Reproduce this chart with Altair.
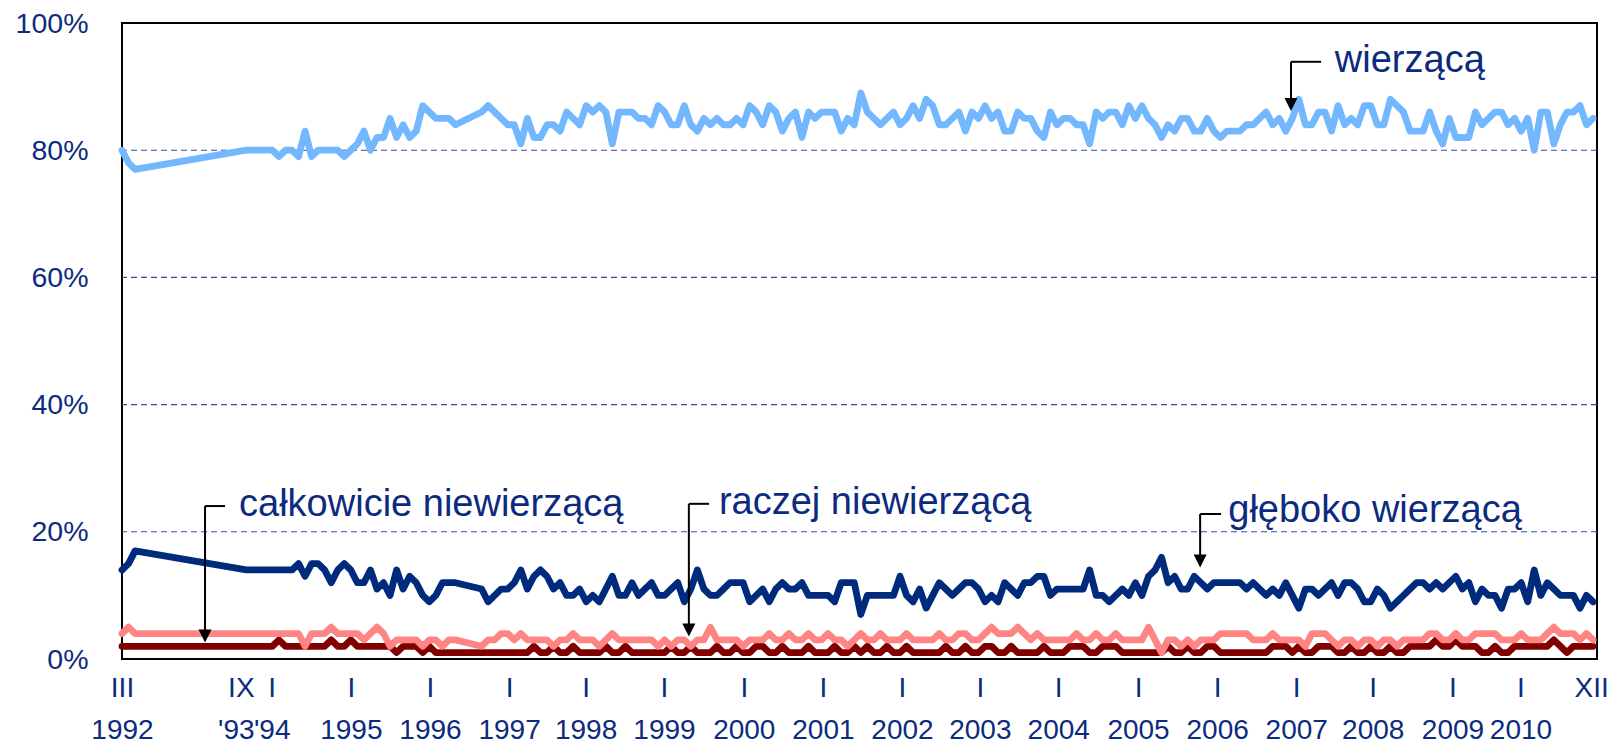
import json
import altair as alt
import pandas as pd

# ---- survey months (0 = III 1992) ----
MONTHS = [0, 1, 2] + list(range(19, 52)) + list(range(55, 226))

WIERZACA = [80, 78, 77,
    80, 80, 80, 80, 80, 79, 80, 80, 79, 83, 79, 80, 80, 80, 80, 79, 80, 81, 83, 80, 82, 82, 85, 82, 84, 82, 83, 87, 86, 85, 85, 85, 84,
    86, 87, 86, 85, 84, 84, 81, 85, 82, 82,
    84, 84, 83, 86, 85, 84, 87, 86, 87, 86,
    81, 86, 86, 86, 85, 85, 84, 87, 86, 84,
    84, 87, 84, 83, 85, 84, 85, 84, 84, 85,
    84, 87, 86, 84, 87, 86, 83, 85, 86, 82,
    86, 85, 86, 86, 86, 83, 85, 84, 89, 86,
    85, 84, 85, 86, 84, 85, 87, 85, 88, 87,
    84, 84, 85, 86, 83, 86, 85, 87, 85, 86,
    83, 83, 86, 85, 85, 83, 82, 86, 84, 85,
    85, 84, 84, 81, 86, 85, 86, 86, 84, 87,
    85, 87, 85, 84, 82, 84, 83, 85, 85, 83,
    83, 85, 83, 82, 83, 83, 83, 84, 84, 85,
    86, 84, 85, 83, 85, 88, 84, 84, 86, 86,
    83, 87, 84, 85, 84, 87, 87, 84, 84, 88,
    87, 86, 83, 83, 83, 86, 83, 81, 85, 82,
    82, 82, 86, 84, 85, 86, 86, 84, 85, 83,
    85, 80, 86, 86, 81, 84, 86, 86, 87, 84,
    85]

GLEBOKO = [14, 15, 17,
    14, 14, 14, 14, 14, 14, 14, 14, 15, 13, 15, 15, 14, 12, 14, 15, 14, 12, 12, 14, 11, 12, 10, 14, 11, 13, 12, 10, 9, 10, 12, 12, 12,
    11, 9, 10, 11, 11, 12, 14, 11, 13, 14,
    13, 11, 12, 10, 10, 11, 9, 10, 9, 11,
    13, 10, 10, 12, 10, 11, 12, 10, 10, 11,
    12, 9, 11, 14, 11, 10, 10, 11, 12, 12,
    12, 9, 10, 11, 9, 11, 12, 11, 11, 12,
    10, 10, 10, 10, 9, 12, 12, 12, 7, 10,
    10, 10, 10, 10, 13, 10, 9, 11, 8, 10,
    12, 11, 10, 11, 12, 12, 11, 9, 10, 9,
    12, 11, 10, 12, 12, 13, 13, 10, 11, 11,
    11, 11, 11, 14, 10, 10, 9, 10, 11, 10,
    12, 10, 13, 14, 16, 12, 13, 11, 11, 13,
    12, 11, 12, 12, 12, 12, 12, 11, 12, 11,
    10, 11, 10, 12, 10, 8, 11, 11, 10, 11,
    12, 10, 12, 12, 11, 9, 9, 11, 10, 8,
    9, 10, 11, 12, 12, 11, 12, 11, 12, 13,
    11, 12, 9, 11, 10, 10, 8, 11, 11, 12,
    9, 14, 10, 12, 11, 10, 10, 10, 8, 10,
    9]

RACZEJ = [4, 5, 4,
    4, 4, 4, 4, 4, 4, 4, 4, 4, 2, 4, 4, 4, 5, 4, 4, 4, 4, 3, 4, 5, 4, 2, 3, 3, 3, 3, 2, 3, 3, 2, 3, 3,
    2, 3, 3, 4, 4, 3, 4, 3, 3, 3,
    3, 2, 3, 3, 4, 3, 3, 3, 2, 3,
    4, 3, 3, 3, 3, 3, 3, 2, 3, 2,
    3, 3, 2, 3, 3, 5, 3, 3, 3, 3,
    2, 3, 3, 3, 4, 3, 3, 4, 3, 3,
    4, 3, 3, 4, 3, 3, 2, 3, 4, 3,
    3, 4, 3, 3, 3, 4, 3, 3, 3, 3,
    4, 3, 3, 4, 4, 3, 3, 4, 5, 4,
    4, 4, 5, 4, 3, 4, 3, 3, 3, 3,
    3, 4, 3, 3, 4, 3, 3, 4, 3, 3,
    3, 3, 5, 3, 1, 3, 3, 2, 3, 2,
    3, 3, 3, 4, 4, 4, 4, 4, 3, 3,
    3, 4, 3, 3, 3, 3, 2, 4, 4, 4,
    3, 2, 3, 3, 2, 3, 3, 2, 3, 3,
    2, 3, 3, 3, 3, 4, 4, 3, 3, 4,
    3, 3, 4, 4, 4, 4, 3, 3, 3, 4,
    3, 3, 3, 4, 5, 4, 4, 4, 3, 4,
    3]

CALKOWICIE = [2, 2, 2,
    2, 2, 2, 2, 2, 3, 2, 2, 2, 2, 2, 2, 2, 3, 2, 2, 3, 2, 2, 2, 2, 2, 2, 1, 2, 2, 2, 1, 2, 1, 1, 1, 1,
    1, 1, 1, 1, 1, 1, 1, 1, 2, 1,
    1, 2, 1, 1, 2, 1, 1, 1, 1, 2,
    1, 1, 2, 1, 1, 1, 1, 1, 1, 2,
    1, 1, 2, 1, 1, 1, 2, 1, 1, 2,
    1, 1, 2, 2, 1, 1, 2, 1, 1, 1,
    2, 1, 1, 1, 2, 1, 1, 2, 1, 2,
    1, 1, 2, 1, 1, 2, 1, 1, 1, 1,
    1, 2, 1, 1, 2, 1, 1, 2, 2, 1,
    1, 2, 1, 1, 1, 1, 2, 1, 1, 1,
    2, 2, 2, 1, 1, 2, 2, 2, 1, 1,
    1, 1, 1, 1, 1, 2, 1, 1, 2, 1,
    1, 2, 2, 1, 1, 1, 1, 1, 1, 1,
    1, 2, 2, 2, 1, 2, 1, 1, 2, 2,
    2, 1, 1, 2, 1, 1, 2, 1, 1, 2,
    1, 1, 2, 2, 2, 2, 3, 2, 2, 3,
    2, 2, 2, 1, 1, 2, 1, 1, 2, 2,
    2, 2, 2, 2, 3, 2, 1, 2, 2, 2,
    2]

# ---- axis ticks ----
TICK_POS = [0, 20.2, 22.9, 35.0, 47.1, 59.2, 70.9, 82.9, 95.1, 107.2, 119.3,
            131.2, 143.2, 155.4, 167.5, 179.6, 191.3, 203.5, 213.9, 224.7]
TICK_ROMAN = ["III", "IX", "I", "I", "I", "I", "I", "I", "I", "I", "I",
              "I", "I", "I", "I", "I", "I", "I", "I", "XII"]
TICK_YEAR = ["1992", "'93", "'94", "1995", "1996", "1997", "1998", "1999", "2000", "2001", "2002",
             "2003", "2004", "2005", "2006", "2007", "2008", "2009", "2010", ""]
RIGHT_ALIGNED_TICK = 20.2
Y_TICKS = [0, 20, 40, 60, 80, 100]
GRID_Y = [20, 40, 60, 80]

# ---- annotations (data coordinates) ----
ANN_TEXT = ["wierzącą", "całkowicie niewierzącą", "raczej niewierzącą", "głęboko wierzącą"]
ANN_TX = [185.5, 17.9, 91.3, 169.2]
ANN_TY = [92.3, 22.5, 22.8, 21.5]
ARR_VX = [178.8, 12.7, 86.7, 164.9]      # vertical stem x
ARR_HX = [183.4, 15.75, 89.8, 168.1]     # end of horizontal stroke
ARR_HY = [93.9, 24.05, 24.4, 22.8]       # height of horizontal stroke
ARR_END = [87.9, 4.4, 5.35, 16.2]        # bottom of stem
ARR_HEAD = [87.2, 3.6, 4.56, 15.4]       # arrow-head centre

FONT = "Liberation Sans"
TXT = "#0D2B7E"
C_W = "#73B7FF"
C_G = "#002A7B"
C_R = "#FF8585"
C_C = "#800000"

ann = pd.DataFrame({"text": ANN_TEXT, "tx": ANN_TX, "ty": ANN_TY, "vx": ARR_VX, "hx": ARR_HX,
                    "hy": ARR_HY, "end": ARR_END, "head": ARR_HEAD})

pos_js = json.dumps(TICK_POS)
label_expr = (f"[{json.dumps(TICK_ROMAN)}[indexof({pos_js}, datum.value)], "
              f"{json.dumps(TICK_YEAR)}[indexof({pos_js}, datum.value)]]")

xscale = alt.Scale(domain=[0, 225.6], nice=False, zero=False)
yscale = alt.Scale(domain=[0, 100], nice=False, zero=True)

x_axis = alt.Axis(values=TICK_POS, labelExpr=label_expr, grid=False, ticks=False, domain=False,
                  title=None, labelFont=FONT, labelFontSize=28, labelColor=TXT, labelPadding=15,
                  labelLineHeight=42, labelOverlap=False, labelFlush=False, labelBound=False,
                  labelAngle=0,
                  labelAlign={"condition": {"test": f"datum.value == {RIGHT_ALIGNED_TICK}", "value": "right"},
                              "value": "center"})
y_axis = alt.Axis(values=Y_TICKS, labelExpr="datum.value + '%'", grid=False, ticks=False, domain=False,
                  title=None, labelFont=FONT, labelFontSize=28.5, labelColor=TXT, labelPadding=34)


def X(field):
    return alt.X(field, scale=xscale, axis=x_axis, title=None)


def Y(field):
    return alt.Y(field, scale=yscale, axis=y_axis, title=None)


grid = alt.Chart(pd.DataFrame({"g": GRID_Y})).mark_rule(
    color="#2F4F9F", strokeWidth=1.1, strokeDash=[6, 4]
).encode(y=Y("g:Q"))


def series(vals, color):
    df = pd.DataFrame({"m": MONTHS, "v": vals})
    return alt.Chart(df).mark_line(color=color, strokeWidth=6.8, strokeJoin="round", strokeCap="round").encode(
        x=X("m:Q"), y=Y("v:Q"))


lines = [series(WIERZACA, C_W), series(GLEBOKO, C_G), series(CALKOWICIE, C_C), series(RACZEJ, C_R)]

base = alt.Chart(ann)
hor = base.mark_rule(color="black", strokeWidth=2).encode(x=X("vx:Q"), x2="hx:Q", y=Y("hy:Q"))
ver = base.mark_rule(color="black", strokeWidth=2).encode(x=X("vx:Q"), y=Y("hy:Q"), y2="end:Q")
heads = base.mark_point(shape="M-1,-1L1,-1L0,1Z", filled=True, size=170, color="black", opacity=1).encode(
    x=X("vx:Q"), y=Y("head:Q"))
labels = base.mark_text(align="left", baseline="alphabetic", font=FONT, fontSize=38, color=TXT).encode(
    x=X("tx:Q"), y=Y("ty:Q"), text="text:N")

chart = alt.layer(grid, *lines, hor, ver, heads, labels).properties(
    width=1475, height=636,
    autosize="none",
    padding={"left": 114, "top": 15, "right": 13, "bottom": 84},
).configure_view(stroke="black", strokeWidth=2)

chart.save("out.html", embed_options={"renderer": "svg", "actions": False})
